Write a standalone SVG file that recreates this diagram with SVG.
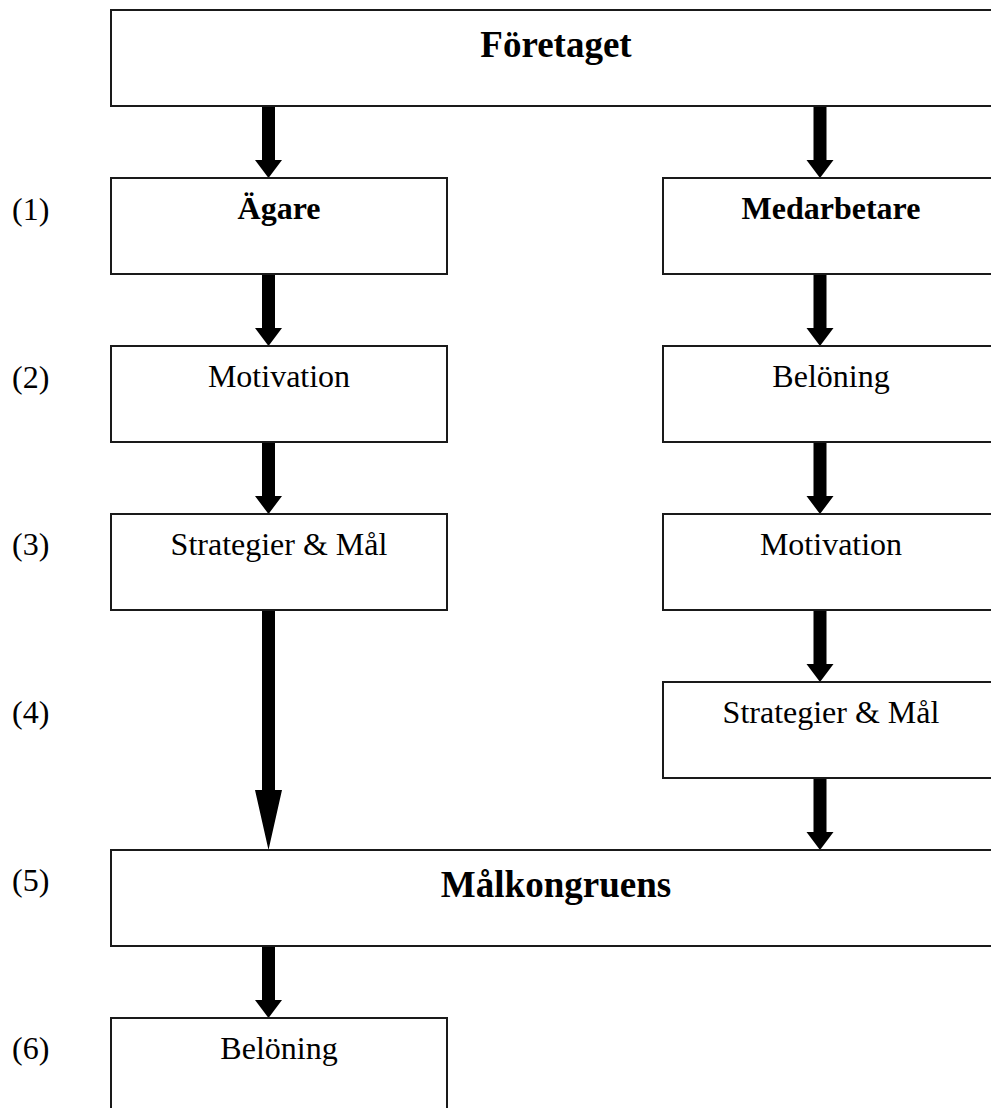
<svg xmlns="http://www.w3.org/2000/svg" width="991" height="1108" viewBox="0 0 991 1108">
  <style>
    .box { fill: #fff; stroke: #1a1a1a; stroke-width: 2; }
    .t { font-family: "Liberation Serif", "Times New Roman", serif; font-size: 32px; fill: #000; text-anchor: middle; }
    .b { font-weight: bold; }
    .big { font-family: "Liberation Serif", "Times New Roman", serif; font-size: 37px; font-weight: bold; fill: #000; text-anchor: middle; }
    .num { font-family: "Liberation Serif", "Times New Roman", serif; font-size: 32px; fill: #000; }
    .arrow { fill: #000; stroke: none; }
  </style>
  <rect width="991" height="1108" fill="#fff"/>

  <!-- step numbers -->
  <g id="steps">
    <text class="num" x="12" y="220">(1)</text>
    <text class="num" x="12" y="388">(2)</text>
    <text class="num" x="12" y="555">(3)</text>
    <text class="num" x="12" y="723">(4)</text>
    <text class="num" x="12" y="891">(5)</text>
    <text class="num" x="12" y="1059">(6)</text>
  </g>

  <!-- connectors -->
  <g id="connectors" class="arrow">
    <polygon points="262,106 275,106 275,160 282,160 268.5,178 255,160 262,160"/>
    <polygon points="262,274 275,274 275,328 282,328 268.5,346 255,328 262,328"/>
    <polygon points="262,442 275,442 275,496 282,496 268.5,514 255,496 262,496"/>
    <polygon points="262,610 275,610 275,790 282,790 268.5,850 255,790 262,790"/>
    <polygon points="262,946 275,946 275,1000 282,1000 268.5,1018 255,1000 262,1000"/>
    <polygon points="813.5,106 826.5,106 826.5,160 833.5,160 820,178 806.5,160 813.5,160"/>
    <polygon points="813.5,274 826.5,274 826.5,328 833.5,328 820,346 806.5,328 813.5,328"/>
    <polygon points="813.5,442 826.5,442 826.5,496 833.5,496 820,514 806.5,496 813.5,496"/>
    <polygon points="813.5,610 826.5,610 826.5,664 833.5,664 820,682 806.5,664 813.5,664"/>
    <polygon points="813.5,778 826.5,778 826.5,832 833.5,832 820,850 806.5,832 813.5,832"/>
  </g>

  <g id="foretaget">
    <rect class="box" x="111" y="10" width="890" height="96"/>
    <text class="big" x="556" y="57">Företaget</text>
  </g>

  <g id="agare">
    <rect class="box" x="111" y="178" width="336" height="96"/>
    <text class="t b" x="279" y="219">Ägare</text>
  </g>
  <g id="agare-motivation">
    <rect class="box" x="111" y="346" width="336" height="96"/>
    <text class="t" x="279" y="387">Motivation</text>
  </g>
  <g id="agare-strategier">
    <rect class="box" x="111" y="514" width="336" height="96"/>
    <text class="t" x="279" y="555">Strategier &amp; Mål</text>
  </g>

  <g id="medarbetare">
    <rect class="box" x="663" y="178" width="340" height="96"/>
    <text class="t b" x="831" y="219">Medarbetare</text>
  </g>
  <g id="medarbetare-beloning">
    <rect class="box" x="663" y="346" width="340" height="96"/>
    <text class="t" x="831" y="387">Belöning</text>
  </g>
  <g id="medarbetare-motivation">
    <rect class="box" x="663" y="514" width="340" height="96"/>
    <text class="t" x="831" y="555">Motivation</text>
  </g>
  <g id="medarbetare-strategier">
    <rect class="box" x="663" y="682" width="340" height="96"/>
    <text class="t" x="831" y="723">Strategier &amp; Mål</text>
  </g>

  <g id="malkongruens">
    <rect class="box" x="111" y="850" width="890" height="96"/>
    <text class="big" x="556" y="897">Målkongruens</text>
  </g>

  <g id="beloning">
    <rect class="box" x="111" y="1018" width="336" height="100"/>
    <text class="t" x="279" y="1059">Belöning</text>
  </g>
</svg>
